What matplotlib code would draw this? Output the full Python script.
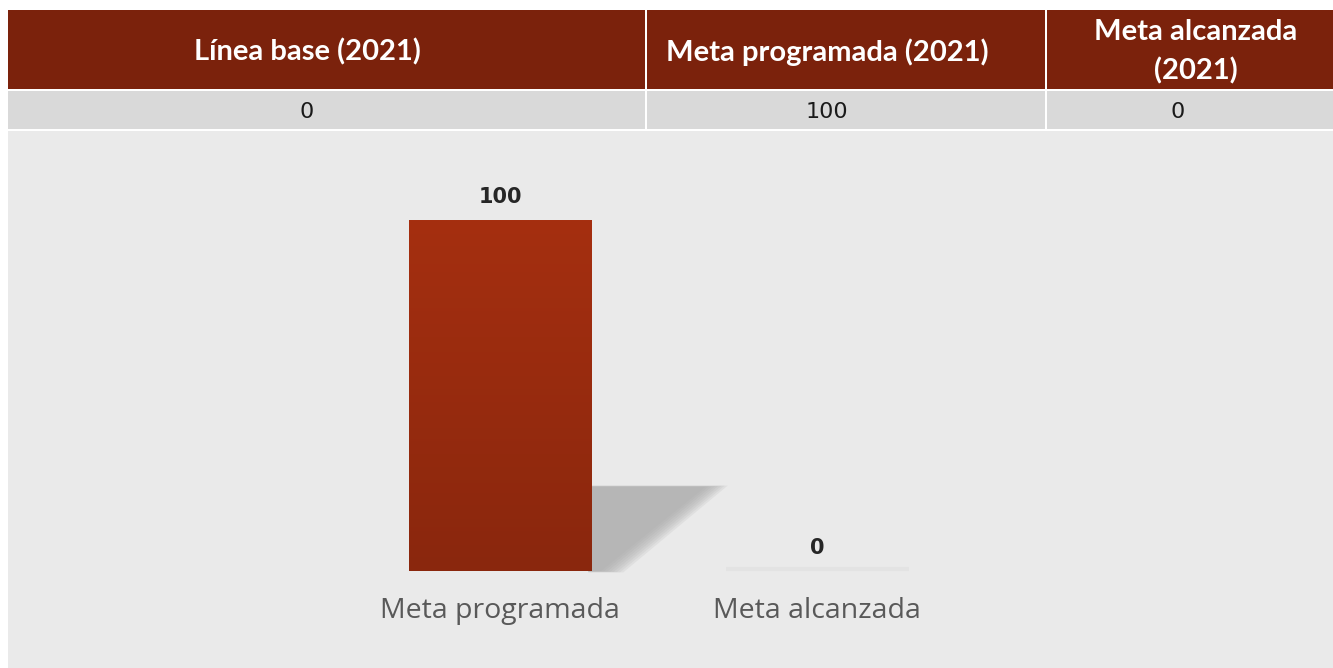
import matplotlib.pyplot as plt
import numpy as np
from matplotlib.patches import Rectangle, Polygon
from matplotlib.colors import LinearSegmentedColormap

table_headers = ["Línea base (2021)", "Meta programada (2021)", "Meta alcanzada\n(2021)"]
table_values = ["0", "100", "0"]
categories = ["Meta programada", "Meta alcanzada"]
values = [100, 0]

W, H = 1333, 668
fig = plt.figure(figsize=(W / 100, H / 100), dpi=100)
fig.patch.set_facecolor("white")

# table layer, in pixel coordinates
bg = fig.add_axes([0, 0, 1, 1])
bg.set_xlim(0, W)
bg.set_ylim(H, 0)
bg.axis("off")

col_edges = [8, 647, 1047, W + 2]
head_x = [307, 827, 1196]
val_x = [307, 827, 1178]
for i in range(3):
    x0, x1 = col_edges[i], col_edges[i + 1] - 2
    bg.add_patch(Rectangle((x0, 10), x1 - x0, 79, fc="#7b220c", lw=0))
    bg.add_patch(Rectangle((x0, 91), x1 - x0, 38, fc="#d9d9d9", lw=0))
    bg.text(head_x[i], 52, table_headers[i], ha="center", va="center", color="white",
            fontsize=21, fontweight="bold", family="Lato", linespacing=1.55)
    bg.text(val_x[i], 112, table_values[i], ha="center", va="center", color="#1a1a1a",
            fontsize=16, family="DejaVu Sans")

# chart
ax = fig.add_axes([8 / W, 0, (W - 8) / W, (H - 131) / H])
ax.set_facecolor("#eaeaea")
for s in ax.spines.values():
    s.set_visible(False)

x = np.arange(len(values))
bw = 183 / 317
bars = ax.bar(x, values, width=bw, color="#982b0f", zorder=3)

cmap = LinearSegmentedColormap.from_list("g", ["#8a270d", "#a52f10"])
grad = np.linspace(1, 0, 256).reshape(-1, 1)
for b, v in zip(bars, values):
    x0, x1 = b.get_x(), b.get_x() + b.get_width()
    if v > 0:
        im = ax.imshow(grad, extent=[x0, x1, 0, v], aspect="auto", cmap=cmap, zorder=3)
        im.set_clip_path(b)
        # soft shadow behind bar
        sh = v * 0.24
        for k in range(8):
            e = 0.01 * k
            pts = [(x1 - 0.01, -e * 6), (x1 - 0.01, sh + e * 5), (x1 + 0.36 + e, sh + e * 5),
                   (x1 + 0.03 + e, -e * 6)]
            ax.add_patch(Polygon(pts, fc="#a8a8a8", alpha=0.16, lw=0, zorder=2))
    else:
        ax.plot([x0, x1], [0.6, 0.6], color="#e3e3e3", lw=3, zorder=2,
                solid_capstyle="butt")
    ax.annotate(str(v), (b.get_x() + b.get_width() / 2, v), xytext=(0, 23),
                textcoords="offset pixels", ha="center", va="center",
                fontsize=15, fontweight="bold", family="DejaVu Sans", color="#262626")

ax.set_xlim(-(500 - 8) / 317, (W - 500) / 317)
ax.set_ylim(-(H - 571) / 3.51, 100 + (220 - 131) / 3.51)
ax.set_xticks(x)
ax.set_xticklabels(categories, fontsize=20.5, family="Open Sans", color="#595959")
ax.tick_params(axis="x", length=0, pad=-51)
ax.set_yticks([])

fig.savefig("out.png", dpi=100)
